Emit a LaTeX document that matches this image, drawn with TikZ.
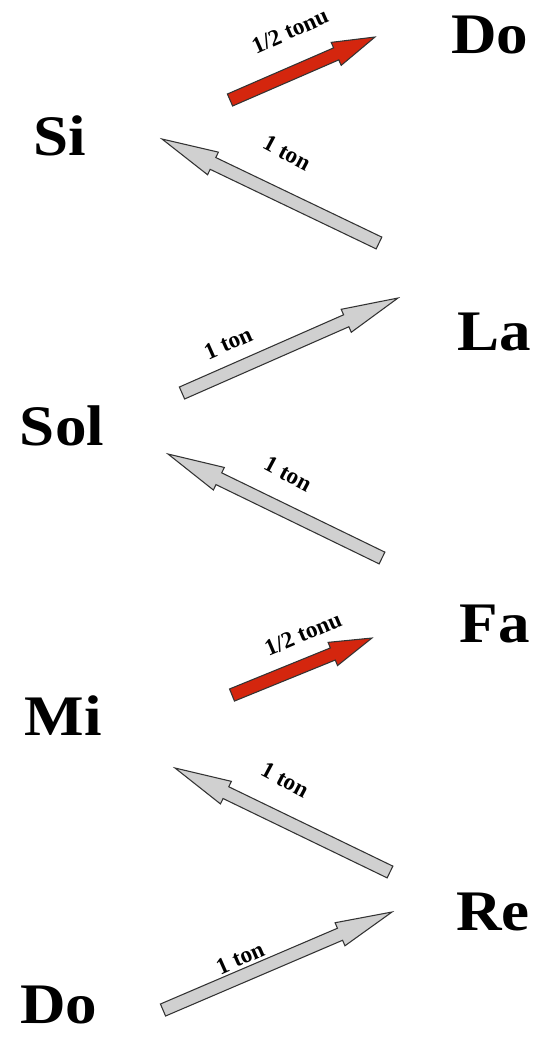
\documentclass[tikz,border=0pt]{standalone}
\usepackage{fontspec}
\setmainfont{Liberation Serif}
\newfontfamily\notefont[FakeStretch=1.1]{Liberation Serif}
\usetikzlibrary{shapes.arrows,calc}

\definecolor{tonred}{RGB}{212,38,14}
\definecolor{tongray}{RGB}{208,208,208}

\tikzset{
  note/.style={font=\notefont\fontsize{43}{43}\selectfont\bfseries, inner sep=0pt, anchor=base},
  tonlabel/.style={font=\fontsize{17.5}{17.5}\selectfont\bfseries, inner sep=0pt},
  tonarrow/.style={single arrow, draw=black!80, line width=0.8pt, fill=tongray,
    inner xsep=0pt, inner ysep=4.5pt, minimum width=0pt, outer sep=0pt,
    single arrow head extend=4.5pt, single arrow tip angle=25, single arrow head indent=0pt},
  halfarrow/.style={tonarrow, fill=tonred, single arrow tip angle=33}
}

% block arrow from #2 to #3
\newcommand{\tonstep}[3][tonarrow]{%
  \path let \p1=($(#3)-(#2)$), \n1={atan2(\y1,\x1)}, \n2={veclen(\x1,\y1)} in
    node[#1, minimum height=\n2, rotate=\n1, anchor=tail] at (#2) {};}

\begin{document}
\begin{tikzpicture}[x=0.75pt, y=-0.75pt]
    \useasboundingbox (0,0) rectangle (552,1040);

    % Notas
    \node[note] (do1) at (59,1023) {Do};
    \node[note] (re)  at (493,930) {Re};
    \node[note] (mi)  at (63,735)  {Mi};
    \node[note] (fa)  at (495,642) {Fa};
    \node[note] (sol) at (62,445)  {Sol};
    \node[note] (la)  at (494,350) {La};
    \node[note] (si)  at (60,155)  {Si};
    \node[note] (do2) at (490,53)  {Do};

    % Extremos de las flechas
    \coordinate (dore-s) at (163,1010);  \coordinate (dore-e) at (392,912);
    \coordinate (remi-s) at (390,872);   \coordinate (remi-e) at (175,768);
    \coordinate (mifa-s) at (232,695);   \coordinate (mifa-e) at (372,638);
    \coordinate (fasol-s) at (382,558);  \coordinate (fasol-e) at (168,454);
    \coordinate (solla-s) at (182,393);  \coordinate (solla-e) at (398,298);
    \coordinate (lasi-s) at (379,243);   \coordinate (lasi-e) at (162,139);
    \coordinate (sido-s) at (230,100);   \coordinate (sido-e) at (375,37);

    % Flechas de tono (gris) y semitono (rojo)
    \tonstep{dore-s}{dore-e}
    \tonstep{remi-s}{remi-e}
    \tonstep[halfarrow]{mifa-s}{mifa-e}
    \tonstep{fasol-s}{fasol-e}
    \tonstep{solla-s}{solla-e}
    \tonstep{lasi-s}{lasi-e}
    \tonstep[halfarrow]{sido-s}{sido-e}

    % Etiquetas
    \node[tonlabel, rotate=24]  (dore-l)  at (240,958) {1 ton};
    \node[tonlabel, rotate=-28] (remi-l)  at (285,780) {1 ton};
    \node[tonlabel, rotate=23]  (mifa-l)  at (303,634) {1/2 tonu};
    \node[tonlabel, rotate=-28] (fasol-l) at (288,474) {1 ton};
    \node[tonlabel, rotate=24]  (solla-l) at (228,343) {1 ton};
    \node[tonlabel, rotate=-28] (lasi-l)  at (287,153) {1 ton};
    \node[tonlabel, rotate=24]  (sido-l)  at (290,31)  {1/2 tonu};
\end{tikzpicture}
\end{document}
